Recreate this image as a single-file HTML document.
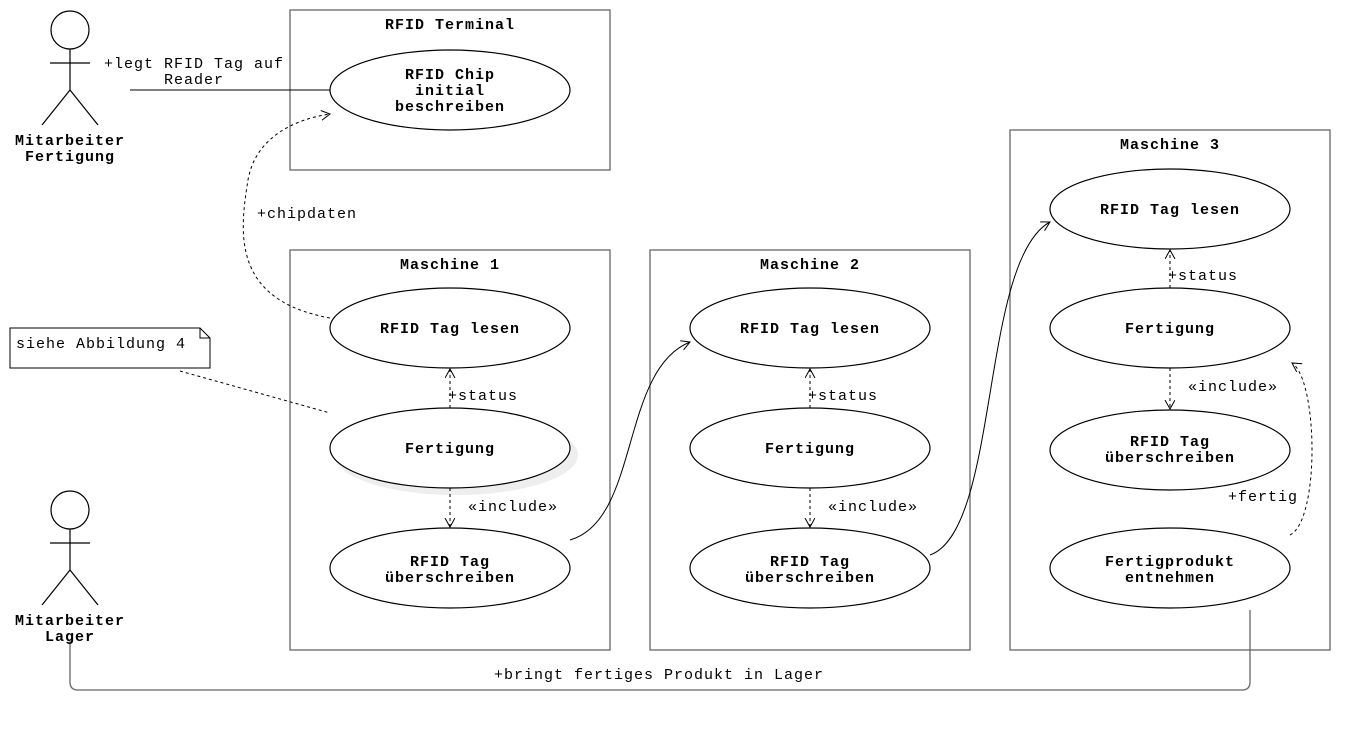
<!DOCTYPE html>
<html><head><meta charset="utf-8"><style>
html,body{margin:0;padding:0;background:#fff;width:1370px;height:731px;overflow:hidden}
svg text{font-family:"Liberation Mono",monospace;font-size:15px;fill:#000;letter-spacing:1px}
.b{font-weight:bold}
</style></head><body>
<svg width="1370" height="731" xmlns="http://www.w3.org/2000/svg">
<defs>
<marker id="oa" markerWidth="12" markerHeight="12" refX="9" refY="5" orient="auto" markerUnits="userSpaceOnUse">
<path d="M0,0 L9,5 L0,10" fill="none" stroke="#000" stroke-width="1"/></marker>
</defs>
<g fill="none" stroke="#666" stroke-width="1.3">
<rect x="290" y="10" width="320" height="160"/>
<rect x="290" y="250" width="320" height="400"/>
<rect x="650" y="250" width="320" height="400"/>
<rect x="1010" y="130" width="320" height="520"/>
<path d="M70,640 V682 Q70,690 78,690 H1242 Q1250,690 1250,682 V610"/>
</g>
<g text-anchor="middle">
<text x="450" y="29" class="b">RFID Terminal</text>
<text x="450" y="269" class="b">Maschine 1</text>
<text x="810" y="269" class="b">Maschine 2</text>
<text x="1170" y="149" class="b">Maschine 3</text>
</g>
<g fill="#fff" stroke="#000" stroke-width="1.2">
<circle cx="70" cy="30" r="19"/>
<path d="M70,49 V90 M50,63 H90 M70,90 L42,125 M70,90 L98,125" fill="none"/>
<circle cx="70" cy="510" r="19"/>
<path d="M70,529 V570 M50,543 H90 M70,570 L42,605 M70,570 L98,605" fill="none"/>
</g>
<g text-anchor="middle">
<text x="70" y="145" class="b">Mitarbeiter</text>
<text x="70" y="161" class="b">Fertigung</text>
<text x="70" y="625" class="b">Mitarbeiter</text>
<text x="70" y="641" class="b">Lager</text>
</g>
<ellipse cx="456" cy="455" rx="122" ry="40" fill="#eee"/>
<g fill="#fff" stroke="#000" stroke-width="1.2">
<ellipse cx="450" cy="90" rx="120" ry="40"/>
<ellipse cx="450" cy="328" rx="120" ry="40"/>
<ellipse cx="450" cy="448" rx="120" ry="40"/>
<ellipse cx="450" cy="568" rx="120" ry="40"/>
<ellipse cx="810" cy="328" rx="120" ry="40"/>
<ellipse cx="810" cy="448" rx="120" ry="40"/>
<ellipse cx="810" cy="568" rx="120" ry="40"/>
<ellipse cx="1170" cy="209" rx="120" ry="40"/>
<ellipse cx="1170" cy="328" rx="120" ry="40"/>
<ellipse cx="1170" cy="450" rx="120" ry="40"/>
<ellipse cx="1170" cy="568" rx="120" ry="40"/>
</g>
<g text-anchor="middle">
<text x="450" y="79" class="b">RFID Chip</text>
<text x="450" y="95" class="b">initial</text>
<text x="450" y="111" class="b">beschreiben</text>
<text x="450" y="333" class="b">RFID Tag lesen</text>
<text x="450" y="453" class="b">Fertigung</text>
<text x="450" y="566" class="b">RFID Tag</text>
<text x="450" y="582" class="b">überschreiben</text>
<text x="810" y="333" class="b">RFID Tag lesen</text>
<text x="810" y="453" class="b">Fertigung</text>
<text x="810" y="566" class="b">RFID Tag</text>
<text x="810" y="582" class="b">überschreiben</text>
<text x="1170" y="214" class="b">RFID Tag lesen</text>
<text x="1170" y="333" class="b">Fertigung</text>
<text x="1170" y="446" class="b">RFID Tag</text>
<text x="1170" y="462" class="b">überschreiben</text>
<text x="1170" y="566" class="b">Fertigprodukt</text>
<text x="1170" y="582" class="b">entnehmen</text>
</g>
<g fill="none" stroke="#000" stroke-width="1">
<path d="M130,90 L330,90"/>
<path d="M570,540 C640,520 620,370 690,342" marker-end="url(#oa)"/>
<path d="M930,555 C1000,530 980,260 1050,222" marker-end="url(#oa)"/>
</g>
<g fill="none" stroke="#000" stroke-width="1" stroke-dasharray="3,3">
<path d="M330,318 C230,300 240,230 248,180 C255,140 290,120 330,114" marker-end="url(#oa)"/>
<path d="M450,408 V369" marker-end="url(#oa)"/>
<path d="M450,488 V527" marker-end="url(#oa)"/>
<path d="M810,408 V369" marker-end="url(#oa)"/>
<path d="M810,488 V527" marker-end="url(#oa)"/>
<path d="M1170,288 V250" marker-end="url(#oa)"/>
<path d="M1170,368 V409" marker-end="url(#oa)"/>
<path d="M1290,535 C1320,520 1318,380 1292,363" marker-end="url(#oa)"/>
<path d="M180,371 L330,413"/>
</g>
<path d="M10,328 H200 L210,338 V368 H10 Z M200,328 V338 H210" fill="#fff" stroke="#000" stroke-width="1"/>
<text x="16" y="348">siehe Abbildung 4</text>
<text x="104" y="68">+legt RFID Tag auf</text>
<text x="164" y="84">Reader</text>
<text x="257" y="218">+chipdaten</text>
<text x="448" y="400">+status</text>
<text x="468" y="511">«include»</text>
<text x="808" y="400">+status</text>
<text x="828" y="511">«include»</text>
<text x="1168" y="280">+status</text>
<text x="1188" y="391">«include»</text>
<text x="1228" y="501">+fertig</text>
<text x="494" y="679">+bringt fertiges Produkt in Lager</text>
</svg>
</body></html>
